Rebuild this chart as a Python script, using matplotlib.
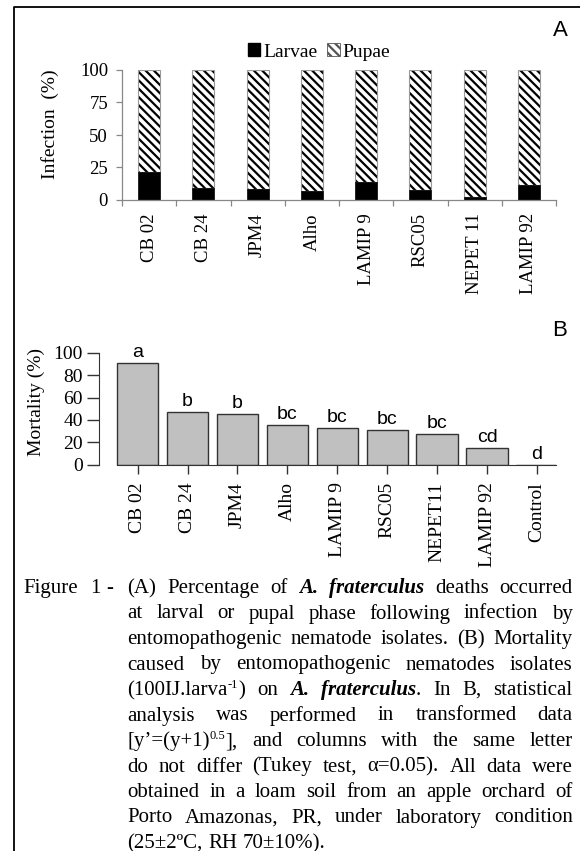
import matplotlib
matplotlib.use("Agg")
import matplotlib.pyplot as plt
from matplotlib.patches import Patch
from matplotlib.lines import Line2D
import numpy as np

W, H = 580, 851
SERIF = "Liberation Serif"
SANS = "Liberation Sans"

# panel A data
isolates_a = ["CB 02", "CB 24", "JPM4", "Alho", "LAMIP 9", "RSC05", "NEPET 11", "LAMIP 92"]
larvae = [21.5, 9, 8.2, 6.9, 14.1, 7.4, 2.6, 11.3]
pupae = [78.5, 91, 91.8, 93.1, 85.9, 92.6, 97.4, 88.7]

# panel B data
isolates_b = ["CB 02", "CB 24", "JPM4", "Alho", "LAMIP 9", "RSC05", "NEPET11", "LAMIP 92", "Control"]
mortality = [91, 47, 45, 35.7, 32.7, 31, 27, 15.2, 0]
letters = ["a", "b", "b", "bc", "bc", "bc", "bc", "cd", "d"]

plt.rcParams["hatch.linewidth"] = 1.6

fig = plt.figure(figsize=(W / 100, H / 100), dpi=100)


def px(x, y):
    return x / W, 1 - y / H


# frame lines (left and top only)
fig.add_artist(Line2D([14 / W, 14 / W, 1], [0, 1 - 7 / H, 1 - 7 / H],
                      transform=fig.transFigure, color="black", lw=1.3))

# ---------------- panel A ----------------
axa = fig.add_axes([122 / W, 1 - 200 / H, 434 / W, 130 / H])
xa = np.arange(len(isolates_a))
axa.bar(xa, pupae, 0.41, bottom=larvae, color="white", hatch="\\\\\\\\",
        edgecolor="black", linewidth=0)
axa.bar(xa, pupae, 0.41, bottom=larvae, fill=False, edgecolor="#999999", linewidth=0.8)
axa.bar(xa, larvae, 0.41, color="black", edgecolor="black", linewidth=0.5)
axa.set_xlim(-0.5, 7.5)
axa.set_ylim(0, 100)
axa.set_yticks([0, 25, 50, 75, 100])
axa.set_xticks(np.arange(-0.5, 8, 1))
axa.set_xticklabels([])
axa.set_xticks(xa, minor=True)
axa.set_xticklabels(isolates_a, minor=True, rotation=90, family=SERIF, fontsize=13.5, va="top")
axa.tick_params(axis="x", which="minor", length=0, pad=9.5)
axa.tick_params(axis="x", which="major", length=4, color="#888888", width=0.9)
axa.tick_params(axis="y", length=4, color="#888888", width=0.9, pad=6)
for lab in axa.get_yticklabels():
    lab.set_family(SERIF)
    lab.set_fontsize(13.5)
for s in ["top", "right"]:
    axa.spines[s].set_visible(False)
for s in ["left", "bottom"]:
    axa.spines[s].set_color("#888888")
    axa.spines[s].set_linewidth(0.9)
axa.set_ylabel("Infection  (%)", family=SERIF, fontsize=14)
axa.yaxis.set_label_coords(-0.145, 0.585)

handles = [Patch(facecolor="black", edgecolor="black"),
           Patch(facecolor="white", edgecolor="#555555", hatch="\\\\\\\\", linewidth=0.6)]
fig.legend(handles, ["Larvae", "Pupae"], loc="center", bbox_to_anchor=px(319, 52),
           ncol=2, frameon=False, prop={"family": SERIF, "size": 14},
           handlelength=0.65, handleheight=0.65, handletextpad=0.15, columnspacing=0.5,
           borderaxespad=0)

fig.text(*px(560, 30), "A", family=SANS, fontsize=16, ha="center", va="center")

# ---------------- panel B ----------------
axb = fig.add_axes([99 / W, 1 - 464.7 / H, 457 / W, 112 / H])
xb = np.arange(len(isolates_b))
axb.bar(xb, mortality, 0.83, color="#c0c0c0", edgecolor="#333333", linewidth=1)
axb.set_xlim(-0.774, 8.38)
axb.set_ylim(0, 100)
axb.set_yticks([0, 20, 40, 60, 80, 100])
axb.set_xticks(xb)
axb.set_xticklabels(isolates_b, rotation=90, family=SERIF, fontsize=14, va="top")
for lab in axb.get_yticklabels():
    lab.set_family(SERIF)
    lab.set_fontsize(14)
axb.tick_params(axis="x", length=6.5, color="#333333", width=1, pad=6)
axb.tick_params(axis="y", length=8.5, color="#333333", width=1, pad=3)
for s in ["top", "right"]:
    axb.spines[s].set_visible(False)
for s in ["left", "bottom"]:
    axb.spines[s].set_color("#333333")
axb.spines["bottom"].set_bounds(-0.415, 8.38)
axb.spines["left"].set_bounds(0, 100)
axb.set_ylabel("Mortality (%)", family=SERIF, fontsize=14)
axb.yaxis.set_label_coords(-0.118, 0.56)
for i, (v, l) in enumerate(zip(mortality, letters)):
    axb.annotate(l, (i, v), xytext=(0, 1.5), textcoords="offset points",
                 ha="center", va="bottom", family=SANS, fontsize=14)

fig.text(*px(560, 330), "B", family=SANS, fontsize=16, ha="center", va="center")

# ---------------- caption ----------------
caption = [
    [[("(A)", "n")], [("Percentage", "n")], [("of", "n")], [("A.", "bi")],
     [("fraterculus", "bi")], [("deaths", "n")], [("occurred", "n")]],
    "at larval or pupal phase following infection by",
    "entomopathogenic nematode isolates. (B) Mortality",
    "caused by entomopathogenic nematodes isolates",
    [[("(100IJ.larva", "n"), ("-1", "sup"), (")", "n")], [("on", "n")], [("A.", "bi")],
     [("fraterculus", "bi"), (".", "n")], [("In", "n")], [("B,", "n")], [("statistical", "n")]],
    "analysis was performed in transformed data",
    [[("[y\u2019=(y+1)", "n"), ("0.5", "sup"), ("],", "n")], [("and", "n")], [("columns", "n")],
     [("with", "n")], [("the", "n")], [("same", "n")], [("letter", "n")]],
    "do not differ (Tukey test, \u03b1=0.05). All data were",
    "obtained in a loam soil from an apple orchard of",
    "Porto Amazonas, PR, under laboratory condition",
    "(25\u00b12\u00baC, RH 70\u00b110%).",
]

renderer = fig.canvas.get_renderer()
left, right = 127.5, 572.7
base0, step = 593.0, 25.5


def run_text(text, kind):
    props = dict(family=SERIF, fontsize=15)
    if kind == "bi":
        props.update(weight="bold", style="italic")
    if kind == "sup":
        props.update(fontsize=9)
    return fig.text(0, 0, text, ha="left", va="baseline", **props)


probe = fig.text(0, 0, "a a", family=SERIF, fontsize=15)
probe2 = fig.text(0, 0, "aa", family=SERIF, fontsize=15)
space_w = probe.get_window_extent(renderer).width - probe2.get_window_extent(renderer).width
probe.remove()
probe2.remove()

# hanging label of the first line
for word, xw in [("Figure", 23), ("1", 90), ("-", 106)]:
    fig.text(*px(xw, base0), word, family=SERIF, fontsize=15, ha="left", va="baseline")

for k, line in enumerate(caption):
    if isinstance(line, str):
        words = [[(w, "n")] for w in line.split(" ")]
    else:
        words = line
    y = base0 + k * step
    objs = []
    widths = []
    for word in words:
        ww = 0
        wo = []
        for text, kind in word:
            t = run_text(text, kind)
            w = t.get_window_extent(renderer).width
            wo.append((t, kind, w))
            ww += w
        objs.append(wo)
        widths.append(ww)
    last = k == len(caption) - 1
    gap = space_w if last else (right - left - sum(widths)) / (len(words) - 1)
    x = left
    for wo, ww in zip(objs, widths):
        xx = x
        for t, kind, w in wo:
            dy = -7 if kind == "sup" else 0
            t.set_position(px(xx, y + dy))
            xx += w
        x += ww + gap

fig.savefig("out.png", dpi=100)
